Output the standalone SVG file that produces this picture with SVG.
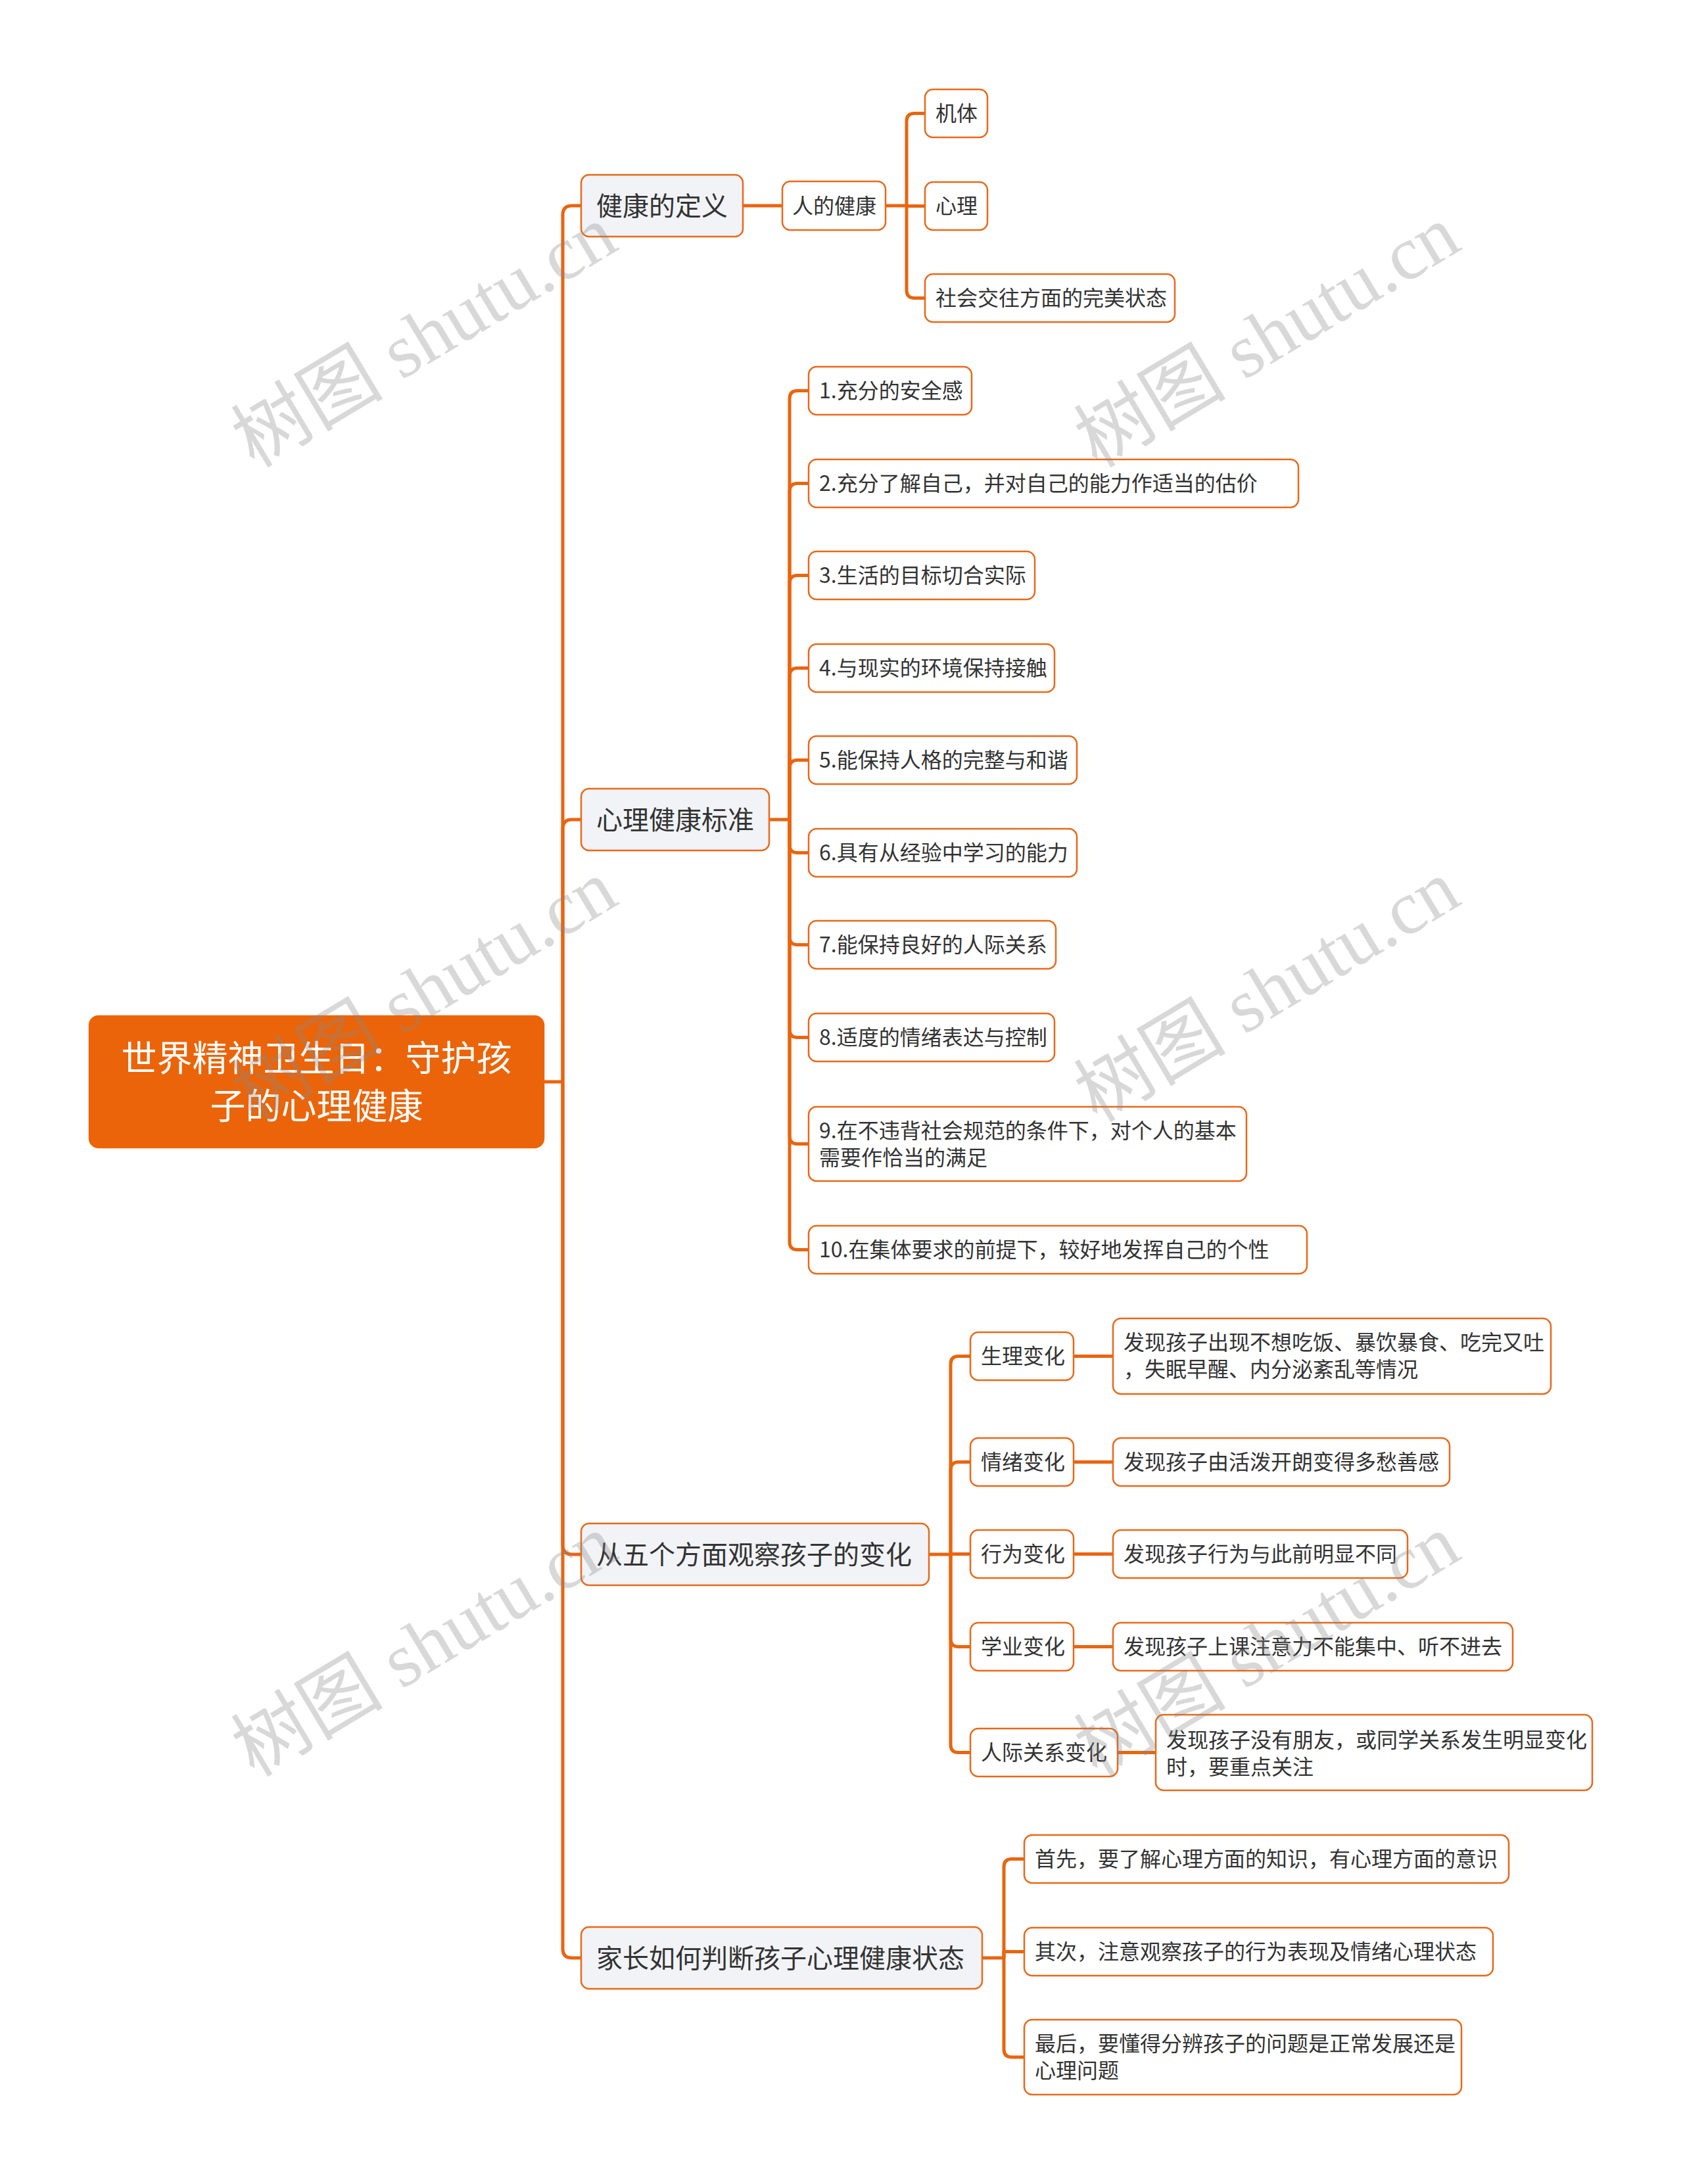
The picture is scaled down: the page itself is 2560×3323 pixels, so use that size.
<svg xmlns="http://www.w3.org/2000/svg" width="2560" height="3323" viewBox="0 0 2560 3323">
<style>
.bg{fill:#ffffff}
.conn path{fill:none;stroke:#E9650F;stroke-width:5;stroke-linejoin:round}
.node rect{fill:#ffffff;stroke:#E8691A;stroke-width:2.5}
.l1 rect{fill:#F1F3F6}
.root rect{fill:#EB6409;stroke:#EB6409}
text{font-family:"Noto Sans CJK SC","Liberation Sans",sans-serif;fill:#333333;font-size:32px}
.l1 text{font-size:40px}
.root text{font-size:54px;fill:#ffffff;text-anchor:middle}
.wm text{font-family:"Liberation Serif","Noto Sans CJK SC",serif;font-size:116px;fill:#888888;fill-opacity:0.33;text-anchor:middle}
</style>
<rect class="bg" x="0" y="0" width="2560" height="3323"/>
<g class="conn">
<path d="M827 1646 H856"/>
<path d="M856 1646 V327 Q856 313 870 313 H884"/>
<path d="M856 1646 V1261 Q856 1247 870 1247 H884"/>
<path d="M856 1646 V2351 Q856 2365 870 2365 H884"/>
<path d="M856 1646 V2965 Q856 2979 870 2979 H884"/>
<path d="M1130 313 H1190"/>
<path d="M1347 313 H1379"/>
<path d="M1379 313 V184.5 Q1379 172.5 1391 172.5 H1407"/>
<path d="M1379 313.5 H1407"/>
<path d="M1379 313 V441.5 Q1379 453.5 1391 453.5 H1407"/>
<path d="M1170 1247 H1201"/>
<path d="M1201 1247 V606.5 Q1201 594.5 1213 594.5 H1230"/>
<path d="M1201 1247 V747.5 Q1201 735.5 1213 735.5 H1230"/>
<path d="M1201 1247 V887.5 Q1201 875.5 1213 875.5 H1230"/>
<path d="M1201 1247 V1028.5 Q1201 1016.5 1213 1016.5 H1230"/>
<path d="M1201 1247 V1168.5 Q1201 1156.5 1213 1156.5 H1230"/>
<path d="M1201 1247 V1285.5 Q1201 1297.5 1213 1297.5 H1230"/>
<path d="M1201 1247 V1425.5 Q1201 1437.5 1213 1437.5 H1230"/>
<path d="M1201 1247 V1566.5 Q1201 1578.5 1213 1578.5 H1230"/>
<path d="M1201 1247 V1728.5 Q1201 1740.5 1213 1740.5 H1230"/>
<path d="M1201 1247 V1889.5 Q1201 1901.5 1213 1901.5 H1230"/>
<path d="M1413 2365 H1446"/>
<path d="M1446 2365 V2075.5 Q1446 2063.5 1458 2063.5 H1476"/>
<path d="M1446 2365 V2236.5 Q1446 2224.5 1458 2224.5 H1476"/>
<path d="M1446 2364.5 H1476"/>
<path d="M1446 2365 V2493.5 Q1446 2505.5 1458 2505.5 H1476"/>
<path d="M1446 2365 V2654.5 Q1446 2666.5 1458 2666.5 H1476"/>
<path d="M1633 2063.5 H1693"/>
<path d="M1633 2224.5 H1693"/>
<path d="M1633 2364.5 H1693"/>
<path d="M1633 2505.5 H1693"/>
<path d="M1700 2666.5 H1758"/>
<path d="M1494 2979 H1527"/>
<path d="M1527 2979 V2840.5 Q1527 2828.5 1539 2828.5 H1558"/>
<path d="M1527 2979 V2969.5 H1558"/>
<path d="M1527 2979 V3118 Q1527 3130 1539 3130 H1558"/>
</g>
<g id="root" class="node root"><rect x="136" y="1546" width="691" height="200" rx="14"/><text x="481.5" y="1630">世界精神卫生日：守护孩</text><text x="481.5" y="1703">子的心理健康</text></g>
<g id="n1" class="node l1"><rect x="884" y="266" width="246" height="94" rx="12"/><text x="907" y="328">健康的定义</text></g>
<g id="n2" class="node l1"><rect x="884" y="1200" width="286" height="94" rx="12"/><text x="907" y="1262">心理健康标准</text></g>
<g id="n3" class="node l1"><rect x="884" y="2318" width="529" height="94" rx="12"/><text x="907" y="2380">从五个方面观察孩子的变化</text></g>
<g id="n4" class="node l1"><rect x="884" y="2932" width="610" height="94" rx="12"/><text x="907" y="2994">家长如何判断孩子心理健康状态</text></g>
<g id="n1a" class="node"><rect x="1190" y="276" width="157" height="74" rx="12"/><text x="1205" y="324.5">人的健康</text></g>
<g id="n1a1" class="node"><rect x="1407" y="136" width="95" height="73" rx="12"/><text x="1423" y="184">机体</text></g>
<g id="n1a2" class="node"><rect x="1407" y="277" width="95" height="73" rx="12"/><text x="1423" y="325">心理</text></g>
<g id="n1a3" class="node"><rect x="1407" y="417" width="380" height="73" rx="12"/><text x="1423" y="465">社会交往方面的完美状态</text></g>
<g id="n2c1" class="node"><rect x="1230" y="558" width="248" height="73" rx="12"/><text x="1246" y="606">1.充分的安全感</text></g>
<g id="n2c2" class="node"><rect x="1230" y="699" width="745" height="73" rx="12"/><text x="1246" y="747">2.充分了解自己，并对自己的能力作适当的估价</text></g>
<g id="n2c3" class="node"><rect x="1230" y="839" width="344" height="73" rx="12"/><text x="1246" y="887">3.生活的目标切合实际</text></g>
<g id="n2c4" class="node"><rect x="1230" y="980" width="374" height="73" rx="12"/><text x="1246" y="1028">4.与现实的环境保持接触</text></g>
<g id="n2c5" class="node"><rect x="1230" y="1120" width="408" height="73" rx="12"/><text x="1246" y="1168">5.能保持人格的完整与和谐</text></g>
<g id="n2c6" class="node"><rect x="1230" y="1261" width="408" height="73" rx="12"/><text x="1246" y="1309">6.具有从经验中学习的能力</text></g>
<g id="n2c7" class="node"><rect x="1230" y="1401" width="376" height="73" rx="12"/><text x="1246" y="1449">7.能保持良好的人际关系</text></g>
<g id="n2c8" class="node"><rect x="1230" y="1542" width="374" height="73" rx="12"/><text x="1246" y="1590">8.适度的情绪表达与控制</text></g>
<g id="n2c9" class="node"><rect x="1230" y="1684" width="666" height="113" rx="12"/><text x="1246" y="1732">9.在不违背社会规范的条件下，对个人的基本</text><text x="1246" y="1773">需要作恰当的满足</text></g>
<g id="n2c10" class="node"><rect x="1230" y="1865" width="758" height="73" rx="12"/><text x="1246" y="1913">10.在集体要求的前提下，较好地发挥自己的个性</text></g>
<g id="n3c1" class="node"><rect x="1476" y="2027" width="157" height="73" rx="12"/><text x="1492" y="2075">生理变化</text></g>
<g id="n3c1a" class="node"><rect x="1693" y="2006" width="666" height="115" rx="12"/><text x="1709" y="2054">发现孩子出现不想吃饭、暴饮暴食、吃完又吐</text><text x="1709" y="2095">，失眠早醒、内分泌紊乱等情况</text></g>
<g id="n3c2" class="node"><rect x="1476" y="2188" width="157" height="73" rx="12"/><text x="1492" y="2236">情绪变化</text></g>
<g id="n3c2a" class="node"><rect x="1693" y="2188" width="512" height="73" rx="12"/><text x="1709" y="2236">发现孩子由活泼开朗变得多愁善感</text></g>
<g id="n3c3" class="node"><rect x="1476" y="2328" width="157" height="73" rx="12"/><text x="1492" y="2376">行为变化</text></g>
<g id="n3c3a" class="node"><rect x="1693" y="2328" width="448" height="73" rx="12"/><text x="1709" y="2376">发现孩子行为与此前明显不同</text></g>
<g id="n3c4" class="node"><rect x="1476" y="2469" width="157" height="73" rx="12"/><text x="1492" y="2517">学业变化</text></g>
<g id="n3c4a" class="node"><rect x="1693" y="2469" width="608" height="73" rx="12"/><text x="1709" y="2517">发现孩子上课注意力不能集中、听不进去</text></g>
<g id="n3c5" class="node"><rect x="1476" y="2630" width="224" height="73" rx="12"/><text x="1492" y="2678">人际关系变化</text></g>
<g id="n3c5a" class="node"><rect x="1758" y="2609" width="664" height="115" rx="12"/><text x="1774" y="2659">发现孩子没有朋友，或同学关系发生明显变化</text><text x="1774" y="2700">时，要重点关注</text></g>
<g id="n4c1" class="node"><rect x="1558" y="2792" width="737" height="73" rx="12"/><text x="1574" y="2840">首先，要了解心理方面的知识，有心理方面的意识</text></g>
<g id="n4c2" class="node"><rect x="1558" y="2933" width="713" height="73" rx="12"/><text x="1574" y="2981">其次，注意观察孩子的行为表现及情绪心理状态</text></g>
<g id="n4c3" class="node"><rect x="1558" y="3073" width="665" height="114" rx="12"/><text x="1574" y="3121">最后，要懂得分辨孩子的问题是正常发展还是</text><text x="1574" y="3162">心理问题</text></g>
<g class="wm">
<text transform="translate(646 513) rotate(-31)" y="38">树图 shutu.cn</text>
<text transform="translate(1928 513) rotate(-31)" y="38">树图 shutu.cn</text>
<text transform="translate(646 1509) rotate(-31)" y="38">树图 shutu.cn</text>
<text transform="translate(1928 1509) rotate(-31)" y="38">树图 shutu.cn</text>
<text transform="translate(646 2505) rotate(-31)" y="38">树图 shutu.cn</text>
<text transform="translate(1928 2505) rotate(-31)" y="38">树图 shutu.cn</text>
</g>
</svg>
